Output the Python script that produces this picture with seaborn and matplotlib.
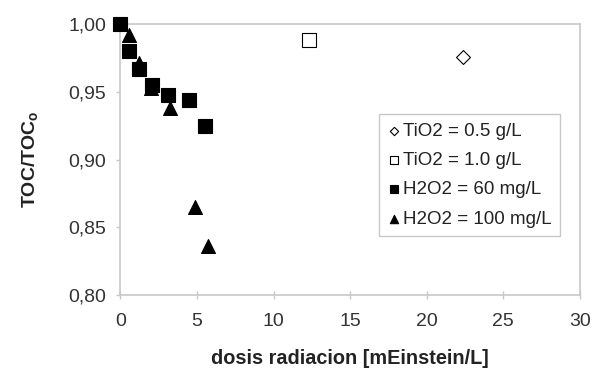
import matplotlib
matplotlib.use("Agg")
import matplotlib.pyplot as plt
import seaborn as sns
import pandas as pd
from matplotlib.ticker import FuncFormatter

# Data
tio2_05_x = [22.35]
tio2_05_y = [0.9756]
tio2_10_x = [12.3]
tio2_10_y = [0.988]
h2o2_60_x = [0.0, 0.54, 1.19, 2.04, 3.09, 4.5, 5.55]
h2o2_60_y = [1.000, 0.980, 0.967, 0.955, 0.948, 0.944, 0.925]
h2o2_100_x = [0.0, 0.59, 1.24, 2.0, 3.24, 4.87, 5.7]
h2o2_100_y = [1.000, 0.992, 0.971, 0.953, 0.938, 0.865, 0.836]

labels = ["TiO2 = 0.5 g/L", "TiO2 = 1.0 g/L", "H2O2 = 60 mg/L", "H2O2 = 100 mg/L"]
x_ticks = [0, 5, 10, 15, 20, 25, 30]
y_ticks = [0.80, 0.85, 0.90, 0.95, 1.00]

sns.set_theme(style="white")
plt.rcParams['font.family'] = ['Liberation Sans', 'DejaVu Sans']

fig = plt.figure(figsize=(5.93, 3.72), dpi=100)
ax = fig.add_axes([0.203, 0.207, 0.775, 0.728])

series = [
    (tio2_05_x, tio2_05_y, labels[0], "D", "white", 50),
    (tio2_10_x, tio2_10_y, labels[1], "s", "white", 95),
    (h2o2_60_x, h2o2_60_y, labels[2], "s", "black", 95),
    (h2o2_100_x, h2o2_100_y, labels[3], "^", "black", 100),
]
for xs, ys, lab, m, fc, s in series:
    df = pd.DataFrame({"x": xs, "y": ys})
    sns.scatterplot(data=df, x="x", y="y", ax=ax, marker=m, s=s,
                    color=fc, edgecolor="black", linewidth=0.8, label=lab,
                    zorder=3, clip_on=False)

ax.set_xlim(0, 30)
ax.set_ylim(0.80, 1.00)
ax.set_xticks(x_ticks)
ax.set_yticks(y_ticks)
ax.yaxis.set_major_formatter(FuncFormatter(lambda v, p: f"{v:.2f}".replace(".", ",")))
ax.xaxis.set_major_formatter(FuncFormatter(lambda v, p: f"{v:.0f}"))

for sp in ax.spines.values():
    sp.set_visible(True)
    sp.set_color("#c8c8c8")
    sp.set_linewidth(1.2)

ax.tick_params(axis="both", which="both", width=1, color="#c8c8c8",
               labelsize=14, labelcolor="#333333")
ax.tick_params(axis="x", direction="inout", length=6, pad=10)
ax.tick_params(axis="y", direction="out", length=3, pad=7)
ax.tick_params(left=True, bottom=True)

ax.set_xlabel("dosis radiacion [mEinstein/L]", fontsize=14.3, fontweight="bold",
              color="#222222", labelpad=14)
ax.set_ylabel(r"TOC/TOC$_\mathregular{o}$", fontsize=14, fontweight="bold",
              color="#222222", labelpad=20)

leg = ax.legend(loc="upper left", bbox_to_anchor=(0.562, 0.668), frameon=True,
                fancybox=False, edgecolor="#bbbbbb", fontsize=13.5,
                handletextpad=0.15, borderpad=0.45, labelspacing=0.65,
                handlelength=0.7, borderaxespad=0, markerscale=0.6)
leg.get_frame().set_linewidth(1.0)
for t in leg.get_texts():
    t.set_color("#222222")

fig.savefig("out.png", dpi=100, facecolor="white")
